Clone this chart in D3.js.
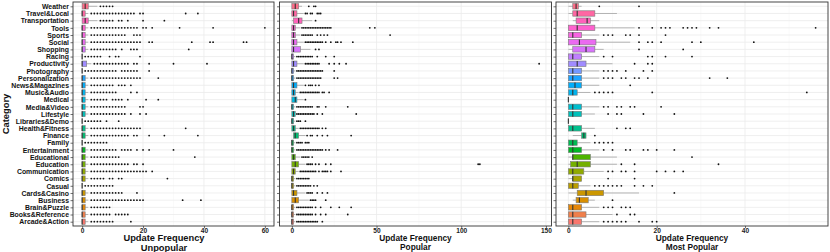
<!DOCTYPE html>
<html>
<head>
<meta charset="utf-8">
<script src="https://cdn.jsdelivr.net/npm/d3@7"></script>
<style>
body { margin: 0; background: #fff; }
text { font-family: "Liberation Sans", Arial, sans-serif; font-weight: bold; }
</style>
</head>
<body>
<svg width="830" height="252"></svg>
<script>
"use strict";

var categories = ["Arcade&Action", "Books&Reference", "Brain&Puzzle", "Business", "Cards&Casino",
  "Casual", "Comics", "Communication", "Education", "Educational", "Entertainment", "Family",
  "Finance", "Health&Fitness", "Libraries&Demo", "Lifestyle", "Media&Video", "Medical",
  "Music&Audio", "News&Magazines", "Personalization", "Photography", "Productivity", "Racing",
  "Shopping", "Social", "Sports", "Tools", "Transportation", "Travel&Local", "Weather"];

// [lower whisker, q1, median, q3, upper whisker], same order as categories
var unpopularStats = [
  [0,0,0,1,2], [0,0,0,1,2], [0,0,0,1,2], [0,0,0,1,2], [0,0,0,1,2], [0,0,0,0,0], [0,0,0,1,2],
  [0,0,0,1,2], [0,0,0,1,2], [0,0,0,1,2], [0,0,0,1,2], [0,0,0,0,0], [0,0,0,1,2], [0,0,0,1,2],
  [0,0,0,0,0], [0,0,0,1,2], [0,0,0,1,2], [0,0,0,1,2], [0,0,0,1,2], [0,0,0,1,2], [0,0,0,1,2],
  [0,0,0,0,0], [0,0,0,1.5,3], [0,0,0,0,0], [0,0,0,1,2], [0,0,0,1,2], [0,0,0,1,2], [0,0,0,1,2],
  [0,0,1,2,5], [0,0,0,1,2], [0,0,1,2,5]
];
var unpopularOutliers = [
  [3,4,5,6,7,8,9,10,16],
  [3,4,5,6,7,8,9,11,12,13,14,15],
  [3,4,5,6,7,8,9],
  [3,4,5,6,7,8,9,10,11,12,13,14,15,16,17,18,19,20,33,39],
  [3,4,5,6,7,8,9,10,11,12,13,18],
  [1,2,3,4,5,6,7,8,9,10],
  [3,4,5,6,7,9,10,12,13,28],
  [3,4,5,6,7,8,9,10,11,12,13,14,15,16,17,18,19,20,21,23],
  [3,4,5,6,7,8,9,10,11,12,13,14,15,17,18,20],
  [3,4,5,6,7,8,9,10,11,12,37],
  [3,4,5,6,7,8,9,10,11,13,14,15,16,18,20,22,30],
  [1,2,3,4,5,6,7,8],
  [3,4,5,6,7,8,9,10,11,12,13,14,15,17,18,22,27,38],
  [3,4,5,6,7,8,9,10,11,12,13,14,15,16,17,18,19,34],
  [1,2,3,4,5,6,8,12],
  [3,4,5,6,7,8,9,10,11,12,13,14,16,19,21],
  [3,4,5,6,7,8,9,10,11,12,13,14,19,20],
  [3,4,5,6,7,8,10,11,12,13,15,21,25],
  [3,4,5,6,7,8,9,10,11,16,18],
  [3,4,5,6,7,8,9,10,12,13,14,16],
  [3,4,5,6,7,8,9,10,11,12,13,14,15,16,17,18,19,25],
  [1,2,3,4,5,6,7,8,9,10,11,13,14,15,16,17,18,22],
  [4,5,6,7,8,9,10,11,12,13,14,15,17,18,22,30,41],
  [1,2,3,4,5,6,9,11,12,19],
  [3,4,5,6,7,8,9,10,11,13,16,17,18,35],
  [3,4,5,6,7,8,9,10,11,12,13,14,15,16,17,18,19,22,23,36,42,43,53,54],
  [3,4,5,6,7,8,9,10,11,12,13,14,17,18,19],
  [3,4,5,6,7,8,9,10,11,12,13,14,15,16,17,18,20,21,23,32,43,60],
  [6,7,8,9,10,12,13,15,20,27],
  [3,4,5,6,7,8,9,10,11,12,13,14,15,16,17,19,20,34,38],
  [6,7,8,9,10]
];

var popularStats = [
  [0,0,0,1,2], [0,0,0,1,2], [0,0,0,1,2], [0,0,2,4,10], [0,0,1,3,8], [0,0,0,1,2], [0,0,0,1,2],
  [0,0,1,2,4], [0,0,2,4,8], [0,0,1,2,5], [0,0,0,1,2], [0,0,0,1,2], [1,1,2,4,8], [0,0,1,2,4],
  [0,0,0,1,2], [0,0,1,2,2], [0,0,0,1,2], [0,0,2,3,7], [0,0,1,2,4], [0,0,1,3,7], [0,0,0,1,2],
  [0,0,0,1,2], [0,0,1,3,7], [0,0,0,1,2], [0,0,1,5,11], [0,0,1,3,7], [0,0,1,2,5], [0,0,1,2,5],
  [0,1,4,6,12], [0,0,1,3,7], [0,0,2,4,6]
];
var popularOutliers = [
  [3,4,5,6,7,8,9,10,11,12,13,14,15,18],
  [3,4,5,6,7,8,9,10,11,12,14,17,20,33],
  [3,4,5,6,7,8,9,10,11,12,14,17,23,28,35],
  [11,12,13,14,20],
  [9,10,11,12,15,18,21],
  [3,4,5,6,7,8,9,10,11,13,15],
  [3,4,5,6,7,8,9,10],
  [5,6,7,8,9,10,11,12,13,14,16,18,19,20,21,23,29],
  [9,10,11,12,14,16,20,23,110,111],
  [6,7,8,9,10,12],
  [3,4,5,6,7,8,9,10,11,12,13,14,15,16,17,18,20,22,27],
  [3,4,5,6,8,9,10],
  [9,11,12,15,18,21,35],
  [5,6,7,8,9,10,11,12,13,14,15,16,18,20],
  [3,4,5,8],
  [3,4,5,6,7,8,9,10,11,12,13,15,18,38],
  [3,4,5,6,7,8,9,10,11,12,15,16,20,33],
  [8],
  [5,6,7,8,9,10,11,12,13,14,15,16,18,19,22],
  [8,10,11,12,14,16],
  [3,4,5,6,7,8,9,10,11,12,13,14,15,16,17,25,27],
  [3,4,5,6,7,8,9,10,11,12,13,14,15,16,17,18,25],
  [8,9,10,11,12,13,14,15,16,22,25,28,32,146],
  [3,4,5,6,7,8,9,10,11,12,15,20,25],
  [14,16],
  [8,9,10,11,12,13,14,15,16,17,18,20,23,26,27,29,36],
  [6,7,8,9,10,11,12,15,17,19,21,58],
  [6,7,8,9,10,11,12,13,14,15,16,17,18,19,20,21,22,23,46,49],
  [14],
  [8,9,11,12,15,16,17],
  [10,13,14]
];

var mostPopularStats = [
  [0,0,1,3,7], [0,0,1,4,10], [0,0,1,3,7], [1,1.75,2.5,4.5,6], [0,2,4,8,16], [0,0,1,2.25,5], [0,1,1,3,3],
  [0,0,1,3.5,8], [0,0.5,2,5,11], [0,1,1,5,11], [0,0,1,3,7], [0,0,1,2,5], [1,3,3.5,4,4], [0,0,1,3,6],
  [0,0,0,0,0], [0,0,1,3,6], [0,0,1,3,7], [0,0,0,0,0], [0,0,1,2,5], [0,0,1.5,3,7], [0,0,1,3,7],
  [0,0,1,3,7], [0,0,2,4,10], [0,0,1,3,7], [0,1,4,6,8], [0,0,2.5,6.25,14], [0,0,1,3,7], [0,0,2,6,15],
  [1,1.75,4.25,5,7], [0,1,2,6,11], [0,1,1.75,2.25,3]
];
var mostPopularOutliers = [
  [8,9,10,11,12,13,16,19,20],
  [11,14,15],
  [8,9,10,12,13,14],
  [10],
  [24],
  [6,7,8,9,10,11,12,15,17,19],
  [9,15],
  [9,10,12,13,15,20,22,24,26],
  [12,15,34],
  [28],
  [8,10,13,14,17,18,20,24],
  [6,7,8,9,10],
  [6],
  [11,13,14],
  [],
  [9,11,12,17,24],
  [8,9,11,12,14,15,21],
  [],
  [6,7,8,9,10,19,54],
  [14],
  [8,9,10,12,13,15,16,18,32,36],
  [8,9,10,11,13,17,19],
  [15,18,19],
  [8,10,18,19,22,28],
  [16,26],
  [16,18,19,21,28,30,42],
  [8,9,10,13,14,16,22],
  [16,19,21,22,23,26,27,28,29,32,34,56],
  [],
  [],
  [7,16]
];

var unpopularTicks = [0, 20, 40, 60];
var popularTicks = [0, 50, 100, 150];
var mostPopularTicks = [0, 20, 40];

// ggplot2 default hue palette (polar LUV, c = 100, l = 65)
function hueColor(h) {
  var Xn = 95.047, Yn = 100, Zn = 108.883, c = 100, l = 65;
  var hr = h * Math.PI / 180;
  var U = c * Math.cos(hr), V = c * Math.sin(hr);
  var Y = Yn * Math.pow((l + 16) / 116, 3);
  var den = Xn + 15 * Yn + 3 * Zn;
  var u = U / (13 * l) + 4 * Xn / den, v = V / (13 * l) + 9 * Yn / den;
  var X = 9 * Y * u / (4 * v);
  var Z = -X / 3 - 5 * Y + 3 * Y / v;
  X /= 100; Y /= 100; Z /= 100;
  var r = 3.240479 * X - 1.53715 * Y - 0.498535 * Z,
      g = -0.969256 * X + 1.875992 * Y + 0.041556 * Z,
      b = 0.055648 * X - 0.204043 * Y + 1.057311 * Z;
  function gam(t) {
    t = t > 0.00304 ? 1.055 * Math.pow(t, 1 / 2.4) - 0.055 : 12.92 * t;
    return Math.round(255 * Math.max(0, Math.min(1, t)));
  }
  return d3.rgb(gam(r), gam(g), gam(b)).formatHex();
}

var color = d3.scaleOrdinal()
  .domain(categories)
  .range(categories.map(function (d, i) { return hueColor(15 + i * 360 / categories.length); }));

var svg = d3.select("svg");
var plotTop = 2, plotBottom = 226;

var y = d3.scalePoint()
  .domain(categories.slice().reverse())
  .range([plotTop, plotBottom])
  .padding(0.6);
var bh = y.step() * 0.75;

var panels = [
  { stats: unpopularStats, outliers: unpopularOutliers, ticks: unpopularTicks, name: "Unpopular",
    x0: 73, x1: 274, titleX: 164, titleSize: 9.3, line2: 250.8, labels: true },
  { stats: popularStats, outliers: popularOutliers, ticks: popularTicks, name: "Popular",
    x0: 279.5, x1: 551.5, titleX: 415.5, titleSize: 8.3, line2: 250.2, labels: false },
  { stats: mostPopularStats, outliers: mostPopularOutliers, ticks: mostPopularTicks, name: "Most Popular",
    x0: 556, x1: 828, titleX: 692, titleSize: 8.3, line2: 250.2, labels: false }
];

panels.forEach(function (p) {
  var maxV = d3.max(p.outliers.map(function (o, i) { return d3.max(o.concat([p.stats[i][4]])); }));
  var x = d3.scaleLinear().domain([-0.05 * maxV, 1.05 * maxV]).range([p.x0, p.x1]);
  var step = p.ticks[1] - p.ticks[0];
  var minor = p.ticks.map(function (t) { return t + step / 2; }).filter(function (t) { return t < x.domain()[1]; });

  var g = svg.append("g");

  g.selectAll(".minor").data(minor).enter().append("line")
    .attr("x1", x).attr("x2", x).attr("y1", plotTop).attr("y2", plotBottom)
    .attr("stroke", "#f4f4f4").attr("stroke-width", 0.5);
  g.selectAll(".major").data(p.ticks).enter().append("line")
    .attr("x1", x).attr("x2", x).attr("y1", plotTop).attr("y2", plotBottom)
    .attr("stroke", "#ebebeb").attr("stroke-width", 0.8);
  g.selectAll(".hgrid").data(categories).enter().append("line")
    .attr("x1", p.x0).attr("x2", p.x1).attr("y1", y).attr("y2", y)
    .attr("stroke", "#ebebeb").attr("stroke-width", 0.8);

  var rows = categories.map(function (c, i) {
    return { cat: c, s: p.stats[i], out: p.outliers[i] };
  });

  var box = g.selectAll(".box").data(rows).enter().append("g");

  box.append("line")
    .attr("x1", function (d) { return x(d.s[0]); })
    .attr("x2", function (d) { return x(d.s[1]); })
    .attr("y1", function (d) { return y(d.cat); })
    .attr("y2", function (d) { return y(d.cat); })
    .attr("stroke", "#9a9a9a").attr("stroke-width", 0.7);
  box.append("line")
    .attr("x1", function (d) { return x(d.s[3]); })
    .attr("x2", function (d) { return x(d.s[4]); })
    .attr("y1", function (d) { return y(d.cat); })
    .attr("y2", function (d) { return y(d.cat); })
    .attr("stroke", "#9a9a9a").attr("stroke-width", 0.7);
  box.append("rect")
    .attr("x", function (d) { return x(d.s[1]); })
    .attr("width", function (d) { return Math.max(0.01, x(d.s[3]) - x(d.s[1])); })
    .attr("y", function (d) { return y(d.cat) - bh / 2; })
    .attr("height", bh)
    .attr("fill", function (d) { return color(d.cat); })
    .attr("stroke", "#7a7a7a").attr("stroke-width", 0.6);
  box.append("line")
    .attr("x1", function (d) { return x(d.s[2]); })
    .attr("x2", function (d) { return x(d.s[2]); })
    .attr("y1", function (d) { return y(d.cat) - bh / 2; })
    .attr("y2", function (d) { return y(d.cat) + bh / 2; })
    .attr("stroke", "#333").attr("stroke-width", 1.1);

  box.selectAll("circle").data(function (d) {
    return d.out.map(function (v) { return { v: v, cat: d.cat }; });
  }).enter().append("circle")
    .attr("cx", function (d) { return x(d.v); })
    .attr("cy", function (d) { return y(d.cat); })
    .attr("r", 0.9)
    .attr("fill", "#111");

  g.append("rect")
    .attr("x", p.x0).attr("y", plotTop)
    .attr("width", p.x1 - p.x0).attr("height", plotBottom - plotTop)
    .attr("fill", "none").attr("stroke", "#333").attr("stroke-width", 0.9);

  var xAxis = g.append("g")
    .attr("transform", "translate(0," + plotBottom + ")")
    .call(d3.axisBottom(x).tickValues(p.ticks).tickSize(2.2).tickPadding(0));
  xAxis.select(".domain").remove();
  xAxis.selectAll("line").attr("stroke", "#333").attr("stroke-width", 0.7);
  xAxis.selectAll("text").attr("font-size", 6.6).attr("fill", "#222")
    .style("font-family", "Liberation Sans, Arial, sans-serif").style("font-weight", "bold");

  var yAxis = g.append("g")
    .attr("transform", "translate(" + p.x0 + ",0)")
    .call(d3.axisLeft(y).tickSize(2.5).tickPadding(1.5)
      .tickFormat(p.labels ? null : function () { return ""; }));
  yAxis.select(".domain").remove();
  yAxis.selectAll("line").attr("stroke", "#333").attr("stroke-width", 0.7);
  yAxis.selectAll("text").attr("font-size", 6.9).attr("fill", "#111")
    .style("font-family", "Liberation Sans, Arial, sans-serif").style("font-weight", "bold");

  g.append("text")
    .attr("text-anchor", "middle")
    .attr("font-size", p.titleSize)
    .attr("fill", "#111")
    .attr("x", p.titleX).attr("y", 241.3)
    .text("Update Frequency");
  g.append("text")
    .attr("text-anchor", "middle")
    .attr("font-size", p.titleSize)
    .attr("fill", "#111")
    .attr("x", p.titleX).attr("y", p.line2)
    .text(p.name);
});

svg.append("text")
  .attr("transform", "translate(8.5," + (plotTop + plotBottom) / 2 + ") rotate(-90)")
  .attr("text-anchor", "middle")
  .attr("font-size", 9.4)
  .attr("fill", "#111")
  .text("Category");
</script>
</body>
</html>
